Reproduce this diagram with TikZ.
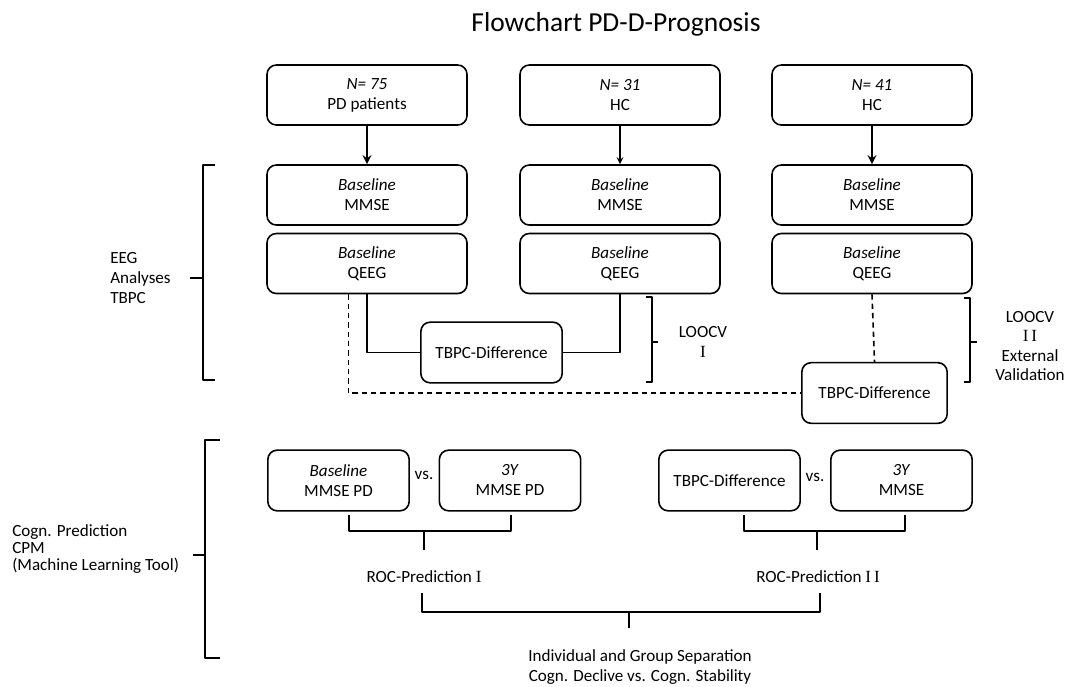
\documentclass[tikz,border=0pt]{standalone}
\usepackage{fontspec}
\setmainfont{Carlito}
\newfontfamily\romfont{Liberation Serif}
\usetikzlibrary{positioning}
\begin{document}
\begin{tikzpicture}[x=0.75pt,y=-0.75pt,line join=round,>=stealth,
  font=\fontsize{12.8}{15}\selectfont,
  box/.style={draw,line width=1.2pt,rounded corners=7pt,align=center,inner sep=0pt,minimum width=150pt,minimum height=45pt},
  smallbox/.style={box,minimum width=106pt,minimum height=45.5pt},
  brack/.style={line width=1.6pt},
  link/.style={line width=1.2pt},
  lab/.style={align=center,inner sep=0pt}]
\useasboundingbox (0,0) rectangle (1075,686);
\node[lab] (title) at (616,24) {\fontsize{20.6}{24}\selectfont Flowchart PD-D-Prognosis};
% the three groups
\foreach \n/\x/\t/\g in {A/367/75/PD patients,B/620/31/HC,C/872/41/HC}{
  \node[box] (top\n) at (\x,95) {\textit{N= \t}\\\g};
  \node[box] (mmse\n) at (\x,195) {\textit{Baseline}\\MMSE};
  \node[box] (qeeg\n) at (\x,263.5) {\textit{Baseline}\\QEEG};
}
\draw[->,line width=2pt] (topA) -- (mmseA);
\draw[->,line width=1.3pt] (topB) -- (mmseB);
\draw[->,line width=2pt] (topC) -- (mmseC);
% TBPC differences
\node[smallbox] (diffA) at (491.5,352.5) {TBPC-Difference};
\node[smallbox,minimum width=109pt] (diffB) at (874.5,393) {TBPC-Difference};
\draw[link] (qeegA.south) |- (diffA.west);
\draw[link] (qeegB.south) |- (diffA.east);
\draw[link,dash pattern=on 4pt off 3pt] ([xshift=-14pt]qeegA.south) |- (diffB.west);
\draw[link,dash pattern=on 4pt off 3pt] (qeegC.south) -- (diffB.north);
% prediction boxes
\node[smallbox] (predA) at (338.5,480.5) {\textit{Baseline}\\MMSE PD};
\node[smallbox] (predB) at (510,480.5) {\textit{3Y}\\MMSE PD};
\node[smallbox] (predC) at (729.5,480.5) {TBPC-Difference};
\node[smallbox] (predD) at (901.5,480.5) {\textit{3Y}\\MMSE};
\node[lab] (vsA) at (424,475) {vs.};
\node[lab] (vsB) at (815,477) {vs.};
\node[lab] (rocA) at (424,577) {ROC-Prediction {\romfont I}};
\node[lab] (rocB) at (818,577) {ROC-Prediction {\romfont I\,I}};
\node[lab] (sep) at (640,667) {Individual and Group Separation\\Cogn. Declive vs. Cogn. Stability};
% side labels
\node[lab,align=left,anchor=west] (eeg) at (110,278) {EEG\\Analyses\\TBPC};
\node[lab,align=left,anchor=west,font=\fontsize{12.8}{12.75}\selectfont] (cpm) at (12,549) {Cogn. Prediction\\CPM\\(Machine Learning Tool)};
\node[lab] (loocvA) at (703,342) {LOOCV\\{\romfont I}};
\node[lab,font=\fontsize{12.8}{14.5}\selectfont] (loocvB) at (1030,346) {LOOCV\\{\romfont I\,I}\\External\\Validation};
% brackets
\draw[brack] (215,165) -- (203,165) -- (203,380) -- (215,380) (203,278) -- (190,278);
\draw[brack] (220,440) -- (205,440) -- (205,658) -- (220,658) (205,555) -- (193,555);
\draw[brack] (646,297) -- (652,297) -- (652,382) -- (646,382) (652,342) -- (658,342);
\draw[brack] (964,298) -- (970,298) -- (970,382) -- (964,382) (970,342) -- (977,342);
\draw[brack] (349,515) |- (511,531) -- (511,515) (424,531) -- (424,550);
\draw[brack] (744,515) |- (905,531) -- (905,515) (817,531) -- (817,550);
\draw[brack] (422,593) |- (820,612) -- (820,593) (629,612) -- (629,628);
\end{tikzpicture}
\end{document}
